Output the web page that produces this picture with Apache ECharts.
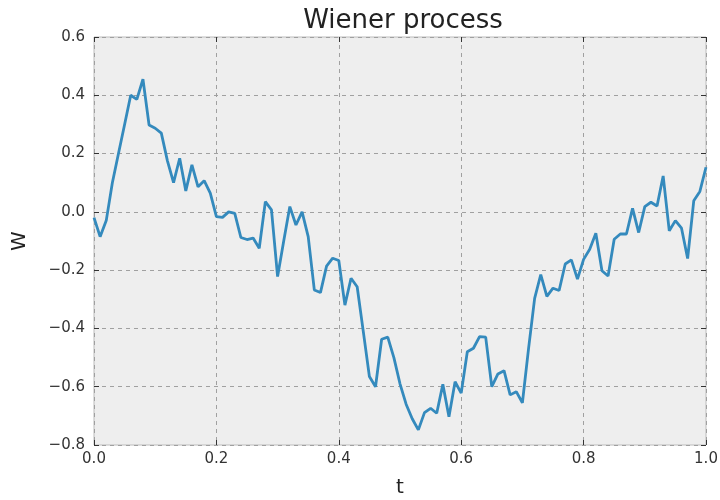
<!DOCTYPE html>
<html>
<head>
<meta charset="utf-8">
<script src="https://cdn.jsdelivr.net/npm/echarts@6/dist/echarts.min.js"></script>
<style>html,body{margin:0;padding:0;background:#fff;}#c{width:720px;height:500px;}</style>
</head>
<body>
<div id="c"></div>
<script>
var times = [0.00,0.01,0.02,0.03,0.04,0.05,0.06,0.07,0.08,0.09,
0.10,0.11,0.12,0.13,0.14,0.15,0.16,0.17,0.18,0.19,
0.20,0.21,0.22,0.23,0.24,0.25,0.26,0.27,0.28,0.29,
0.30,0.31,0.32,0.33,0.34,0.35,0.36,0.37,0.38,0.39,
0.40,0.41,0.42,0.43,0.44,0.45,0.46,0.47,0.48,0.49,
0.50,0.51,0.52,0.53,0.54,0.55,0.56,0.57,0.58,0.59,
0.60,0.61,0.62,0.63,0.64,0.65,0.66,0.67,0.68,0.69,
0.70,0.71,0.72,0.73,0.74,0.75,0.76,0.77,0.78,0.79,
0.80,0.81,0.82,0.83,0.84,0.85,0.86,0.87,0.88,0.89,
0.90,0.91,0.92,0.93,0.94,0.95,0.96,0.97,0.98,0.99,1.00];
var W = [-0.02,-0.085,-0.03,0.10,0.20,0.30,0.40,0.386,0.455,0.298,
0.287,0.27,0.175,0.10,0.184,0.072,0.161,0.086,0.107,0.064,
-0.016,-0.019,0.0,-0.005,-0.088,-0.095,-0.09,-0.125,0.035,0.007,
-0.222,-0.10,0.018,-0.045,0.0,-0.085,-0.268,-0.277,-0.186,-0.159,
-0.167,-0.32,-0.228,-0.257,-0.41,-0.565,-0.60,-0.437,-0.43,-0.50,
-0.59,-0.66,-0.71,-0.748,-0.689,-0.674,-0.691,-0.592,-0.703,-0.583,
-0.622,-0.48,-0.468,-0.428,-0.43,-0.60,-0.556,-0.545,-0.628,-0.617,
-0.655,-0.47,-0.297,-0.215,-0.29,-0.262,-0.27,-0.179,-0.165,-0.231,
-0.163,-0.128,-0.073,-0.202,-0.22,-0.094,-0.076,-0.076,0.012,-0.071,
0.018,0.033,0.02,0.123,-0.065,-0.03,-0.056,-0.16,0.038,0.07,0.153];
var titleText = 'Wiener process';
var xName = 't';
var yName = 'W';

var data = times.map(function(t, i){ return [t, W[i]]; });
var FONT = 'DejaVu Sans';
function fmt(v){ var s = (Math.round(v*10)/10).toFixed(1); return s.replace('-', '\u2212'); }
var tickStyle = {show:true, inside:true, length:5, lineStyle:{color:'#333', width:1}};
var gridLine = {show:true, lineStyle:{color:'#a0a0a0', type:[4,4], width:1}};
var noLine = {show:false, onZero:false};
var chart = echarts.init(document.getElementById('c'), null, {renderer:'canvas'});
chart.setOption({
  animation:false,
  backgroundColor:'#ffffff',
  title:{text:titleText, left:398, top:3, textAlign:'center',
    textStyle:{fontFamily:FONT, fontSize:26, fontWeight:'normal', color:'#222'}},
  grid:{left:94, right:14, top:37, bottom:55, outerBoundsMode:'none', containLabel:false,
    show:true, backgroundColor:'#eeeeee', borderColor:'#bcbcbc', borderWidth:1},
  xAxis:[{type:'value', min:0, max:1, interval:0.2, position:'bottom',
    name:xName, nameLocation:'middle', nameGap:33,
    nameTextStyle:{fontFamily:FONT, fontSize:20, color:'#222'},
    axisLine:noLine, axisTick:tickStyle, splitLine:gridLine,
    axisLabel:{fontFamily:FONT, fontSize:15, color:'#333', margin:7, formatter:fmt}},
   {type:'value', min:0, max:1, interval:0.2, position:'top',
    axisLine:noLine, axisTick:tickStyle, splitLine:{show:false}, axisLabel:{show:false}}],
  yAxis:[{type:'value', min:-0.8, max:0.6, interval:0.2, position:'left',
    name:yName, nameLocation:'middle', nameGap:64,
    nameTextStyle:{fontFamily:FONT, fontSize:20, color:'#222'},
    axisLine:noLine, axisTick:tickStyle, splitLine:gridLine,
    axisLabel:{fontFamily:FONT, fontSize:15, color:'#333', margin:9, formatter:fmt}},
   {type:'value', min:-0.8, max:0.6, interval:0.2, position:'right',
    axisLine:noLine, axisTick:tickStyle, splitLine:{show:false}, axisLabel:{show:false}}],
  series:[{type:'line', data:data, xAxisIndex:0, yAxisIndex:0, showSymbol:false, symbol:'none',
    lineStyle:{color:'#348ABD', width:2.8}, z:5}]
});
</script>
</body>
</html>
